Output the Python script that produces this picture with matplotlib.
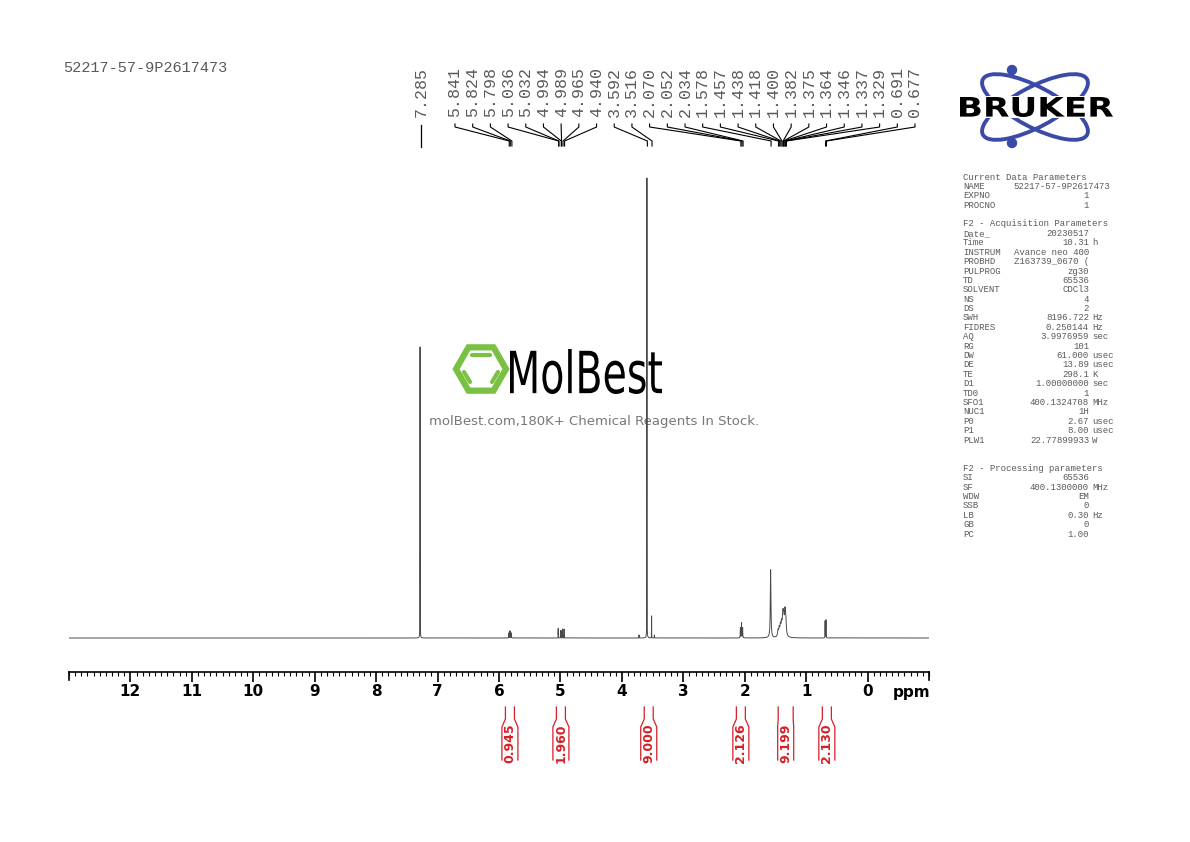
import numpy as np
import matplotlib
matplotlib.use('Agg')
import matplotlib.pyplot as plt
from matplotlib.patches import Ellipse, Circle, RegularPolygon, PathPatch
from matplotlib.textpath import TextPath
from matplotlib.font_manager import FontProperties
from matplotlib.transforms import Affine2D

W, H = 1190, 842

# peak list: position (ppm), height (relative, tallest = 460), width (ppm)
PEAK_PPM = [7.285, 5.841, 5.824, 5.815, 5.798, 5.036, 5.032, 4.994, 4.989,
            4.965, 4.940, 3.72, 3.592, 3.516, 3.47, 2.070, 2.052, 2.034,
            1.578, 1.457, 1.438, 1.418, 1.400, 1.382, 1.375, 1.364, 1.346,
            1.337, 1.329, 0.691, 0.677]
PEAK_H = [291, 5, 7, 6, 5, 9, 8, 7, 7, 9, 9, 3, 460, 22, 3, 10, 15, 10,
          68, 6, 8, 10, 11, 12, 12, 14, 18, 12, 8, 17, 18]
PEAK_W = [0.002, 0.003, 0.003, 0.003, 0.003, 0.002, 0.002, 0.002, 0.002,
          0.002, 0.002, 0.003, 0.0018, 0.002, 0.003, 0.005, 0.005, 0.005,
          0.012, 0.018, 0.018, 0.018, 0.018, 0.018, 0.018, 0.018, 0.018,
          0.018, 0.018, 0.003, 0.003]

PEAK_LABELS = ['5.841', '5.824', '5.798', '5.036', '5.032', '4.994', '4.989',
               '4.965', '4.940', '3.592', '3.516', '2.070', '2.052', '2.034',
               '1.578', '1.457', '1.438', '1.418', '1.400', '1.382', '1.375',
               '1.364', '1.346', '1.337', '1.329', '0.691', '0.677']

INT_PPM = [5.83, 5.00, 3.57, 2.07, 1.34, 0.67]
INT_HALF = [4.5, 4.5, 4.5, 4.5, 7.5, 4.5]
INT_VALUES = ['0.945', '1.960', '9.000', '2.126', '9.199', '2.130']

PARAMS = [
    ('Current Data Parameters', None, None),
    ('NAME', '52217-57-9P2617473', 'name'),
    ('EXPNO', '1', ''),
    ('PROCNO', '1', ''),
    None,
    ('F2 - Acquisition Parameters', None, None),
    ('Date_', '20230517', ''), ('Time', '10.31', 'h'),
    ('INSTRUM', 'Avance neo 400', ''), ('PROBHD', 'Z163739_0670 (', ''),
    ('PULPROG', 'zg30', ''), ('TD', '65536', ''), ('SOLVENT', 'CDCl3', ''),
    ('NS', '4', ''), ('DS', '2', ''), ('SWH', '8196.722', 'Hz'),
    ('FIDRES', '0.250144', 'Hz'), ('AQ', '3.9976959', 'sec'),
    ('RG', '101', ''), ('DW', '61.000', 'usec'), ('DE', '13.89', 'usec'),
    ('TE', '298.1', 'K'), ('D1', '1.00000000', 'sec'), ('TD0', '1', ''),
    ('SFO1', '400.1324708', 'MHz'), ('NUC1', '1H', ''),
    ('P0', '2.67', 'usec'), ('P1', '8.00', 'usec'),
    ('PLW1', '22.77899933', 'W'),
    None, None,
    ('F2 - Processing parameters', None, None),
    ('SI', '65536', ''), ('SF', '400.1300000', 'MHz'), ('WDW', 'EM', ''),
    ('SSB', '0', ''), ('LB', '0.30', 'Hz'), ('GB', '0', ''), ('PC', '1.00', ''),
]

C_SPEC = '#4a4a4a'
C_RED = '#d42027'
C_GRAY = '#5a5a5a'
C_GREEN = '#7ac143'
MONO = 'Liberation Mono'


def ppm_to_px(p):
    return 868 - p * 61.42


def fitted_text(ax, s, x0, y_bottom, width, height, weight='normal', color='black'):
    """Draw text as a path stretched into a given pixel box."""
    tp = TextPath((0, 0), s, size=44,
                  prop=FontProperties(family='DejaVu Sans', weight=weight))
    bb = tp.get_extents()
    tp = tp.transformed(Affine2D().translate(-bb.x0, -bb.y0)
                        .scale(width / bb.width, -height / bb.height)
                        .translate(x0, y_bottom))
    ax.add_patch(PathPatch(tp, fc=color, ec='none'))


fig = plt.figure(figsize=(W / 100, H / 100), dpi=100)
fig.patch.set_facecolor('white')

# overlay axes in pixel coordinates
ov = fig.add_axes([0, 0, 1, 1])
ov.set_xlim(0, W)
ov.set_ylim(H, 0)
ov.axis('off')

# MolBest watermark (behind the spectrum)
ov.add_patch(RegularPolygon((481, 369), 6, radius=25, orientation=np.pi / 6,
                            fill=False, ec=C_GREEN, lw=4.5))
ov.plot([472, 490], [355, 355], color=C_GREEN, lw=3, solid_capstyle='round')
ov.plot([464, 470], [372, 382], color=C_GREEN, lw=3, solid_capstyle='round')
ov.plot([498, 492], [372, 382], color=C_GREEN, lw=3, solid_capstyle='round')
fitted_text(ov, 'MolBest', 510, 394, 152, 45)
ov.text(594, 421, 'molBest.com,180K+ Chemical Reagents In Stock.', fontsize=9.5,
        color='#777777', ha='center', va='center')

# spectrum axes: x 69..929 px, y 170..672 px
ax = fig.add_axes([69 / W, (H - 672) / H, 860 / W, 502 / H])
ax.patch.set_alpha(0)
x = np.linspace(-1, 13, 140001)
y = np.zeros_like(x)
for p, h, w in zip(PEAK_PPM, PEAK_H, PEAK_W):
    y += h * (w / 2) ** 2 / ((x - p) ** 2 + (w / 2) ** 2)
ax.plot(x, y, color=C_SPEC, linewidth=0.7)
ax.set_xlim(13, -1)
ax.set_ylim(-34, 468)
for s in ('top', 'right', 'left'):
    ax.spines[s].set_visible(False)
ax.spines['bottom'].set_linewidth(1.2)
ax.set_yticks([])
ax.set_xticks(range(0, 13))
ax.set_xticks(np.arange(-1, 13.001, 0.1), minor=True)
ax.tick_params(axis='x', which='major', direction='out', length=7, width=1.2,
               labelsize=11, pad=2)
ax.tick_params(axis='x', which='minor', direction='out', length=3, width=0.8)
for lbl in ax.get_xticklabels():
    lbl.set_fontweight('bold')
ov.text(912, 692, 'ppm', fontsize=11, fontweight='bold', ha='center', va='center')
ov.plot([69, 69], [672, 680], color='black', lw=1.2)
ov.plot([929, 929], [672, 680], color='black', lw=1.2)

# peak labels with connectors
ov.text(421, 67, '7.285', rotation=90, ha='center', va='top', family=MONO,
        fontsize=12, color=C_GRAY)
ov.plot([421, 421], [125, 147], color='black', lw=0.9)
lx = np.linspace(455, 915, len(PEAK_LABELS))
for xi, lab in zip(lx, PEAK_LABELS):
    ov.text(xi, 67, lab, rotation=90, ha='center', va='top',
            family=MONO, fontsize=12, color=C_GRAY)
    px = ppm_to_px(float(lab))
    ov.plot([xi, xi, px, px], [124, 127, 141, 146], color='black', lw=0.8)

# integrals
for p, hw, val in zip(INT_PPM, INT_HALF, INT_VALUES):
    cx = ppm_to_px(p)
    ow = 8
    ov.plot([cx - hw, cx - hw, cx - ow, cx - ow], [707, 719, 727, 760], color=C_RED, lw=0.9)
    ov.plot([cx + hw, cx + hw, cx + ow, cx + ow], [707, 719, 727, 760], color=C_RED, lw=0.9)
    ov.text(cx, 743, val, rotation=90, ha='center', va='center', color=C_RED,
            fontsize=9, fontweight='bold')

# title id
ov.text(63, 68, '52217-57-9P2617473', family=MONO, fontsize=11,
        color=C_GRAY, va='center')

# parameter block
yy = 177
for row in PARAMS:
    if row is not None:
        name, val, unit = row
        ov.text(963, yy, name, family=MONO, fontsize=6.5,
                color=C_GRAY, va='center')
        if val is not None:
            xr = 1110 if unit == 'name' else 1089
            ov.text(xr, yy, val, family=MONO, fontsize=6.5,
                    color=C_GRAY, va='center', ha='right')
            if unit and unit != 'name':
                ov.text(1092, yy, unit, family=MONO, fontsize=6.5,
                        color=C_GRAY, va='center')
    yy += 9.4

# Bruker logo
for ang in (28, -28):
    ov.add_patch(Ellipse((1035, 107), 118, 40, angle=ang, fill=False,
                         ec='#3a4aa8', lw=2.8))
for cxy in [(1012, 70), (1012, 143)]:
    ov.add_patch(Circle(cxy, 4.5, color='#3a4aa8'))
ov.add_patch(plt.Rectangle((958, 96), 157, 22, color='white', ec='none'))
fitted_text(ov, 'BRUKER', 960, 117, 153, 20, weight='heavy')

fig.savefig('out.png', dpi=100, facecolor='white')
